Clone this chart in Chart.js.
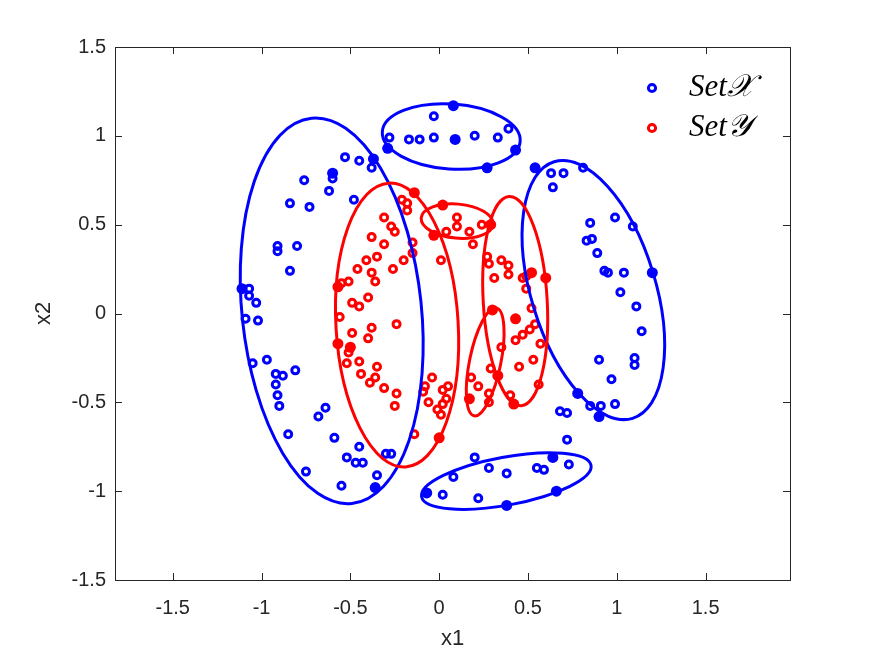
<!DOCTYPE html>
<html>
<head>
<meta charset="utf-8">
<script src="https://cdn.jsdelivr.net/npm/chart.js@4.4.1/dist/chart.umd.min.js"></script>
<style>
  html, body { margin: 0; padding: 0; background: #ffffff; }
  #wrap { width: 875px; height: 656px; }
</style>
</head>
<body>
<div id="wrap"><canvas id="scatterChart" width="875" height="656"></canvas></div>
<script>
// tick labels
const xTicks = [-1.5, -1, -0.5, 0, 0.5, 1, 1.5];
const yTicks = [-1.5, -1, -0.5, 0, 0.5, 1, 1.5];

// Set X: ring markers and the solid-looking (stacked) ones
const setXRing = [
  [-0.53, 0.88], [-0.45, 0.86], [-0.38, 0.82], [-0.76, 0.75], [-0.60, 0.76], [-0.62, 0.69], [-0.48, 0.64],
  [-0.84, 0.62], [-0.73, 0.60], [-0.91, 0.38], [-0.91, 0.35], [-0.80, 0.38], [-0.84, 0.24], [-1.07, 0.14],
  [-1.07, 0.10], [-1.03, 0.06], [-1.09, -0.03], [-1.02, -0.04], [-1.05, -0.28], [-0.97, -0.26], [-0.92, -0.34],
  [-0.88, -0.35], [-0.81, -0.32], [-0.92, -0.40], [-0.91, -0.46], [-0.90, -0.52], [-0.64, -0.53], [-0.68, -0.58],
  [-0.85, -0.68], [-0.59, -0.70], [-0.45, -0.75], [-0.52, -0.81], [-0.47, -0.84], [-0.43, -0.84], [-0.30, -0.79],
  [-0.27, -0.79], [-0.35, -0.91], [-0.55, -0.97], [-0.75, -0.89],
  [-0.03, 1.11], [-0.28, 0.99], [-0.17, 0.98], [-0.11, 0.98], [-0.03, 0.99], [0.20, 1.00], [0.33, 0.99], [0.39, 1.04],
  [0.63, 0.79], [0.70, 0.79], [0.64, 0.71], [0.81, 0.82], [0.99, 0.54], [0.85, 0.51], [1.09, 0.49], [0.83, 0.41],
  [0.86, 0.42], [0.89, 0.34], [0.93, 0.24], [0.95, 0.23], [1.04, 0.23], [1.02, 0.12], [1.11, 0.04], [1.14, -0.10],
  [0.90, -0.26], [1.10, -0.25], [1.10, -0.29], [0.97, -0.37], [0.68, -0.55], [0.72, -0.56], [0.85, -0.52],
  [0.91, -0.52], [0.99, -0.51],
  [0.02, -1.02], [0.08, -0.92], [0.20, -0.81], [0.28, -0.87], [0.22, -1.04], [0.38, -0.90], [0.55, -0.87],
  [0.59, -0.88], [0.73, -0.85], [0.72, -0.71]
];
const setXDots = [
  [-0.37, 0.87], [-0.60, 0.79], [-1.11, 0.14], [-0.36, -0.98], [-0.07, -1.01], [0.08, 1.17], [-0.29, 0.93],
  [0.09, 0.98], [0.43, 0.92], [0.27, 0.82], [0.54, 0.82], [1.20, 0.23], [0.78, -0.45], [0.90, -0.58],
  [0.38, -1.08], [0.64, -0.81], [0.66, -1.00]
];

// Set Y
const setYRing = [
  [-0.21, 0.64], [-0.18, 0.62], [-0.18, 0.58], [-0.31, 0.54], [-0.27, 0.49], [-0.25, 0.46], [-0.38, 0.43],
  [-0.31, 0.39], [-0.15, 0.40], [-0.15, 0.34], [-0.20, 0.30], [-0.35, 0.32], [-0.41, 0.30], [-0.46, 0.25],
  [-0.26, 0.25], [-0.38, 0.23], [-0.36, 0.18], [-0.51, 0.18], [-0.55, 0.17], [0.01, 0.30], [-0.49, 0.06],
  [-0.45, 0.04], [-0.40, 0.09], [-0.56, -0.02], [-0.24, -0.06], [-0.49, -0.11], [-0.38, -0.08], [-0.40, -0.14],
  [-0.51, -0.22], [-0.45, -0.27], [-0.52, -0.28], [-0.35, -0.30], [-0.44, -0.34], [-0.36, -0.36], [-0.39, -0.39],
  [-0.31, -0.42], [-0.24, -0.45], [-0.25, -0.52], [-0.14, -0.68],
  [-0.04, -0.36], [-0.08, -0.41], [-0.09, -0.44], [-0.06, -0.50], [0.02, -0.43], [0.05, -0.41], [0.04, -0.48],
  [0.02, -0.51], [-0.01, -0.54], [0.01, -0.57],
  [0.10, 0.54], [0.10, 0.49], [0.04, 0.46], [0.17, 0.46], [0.24, 0.50], [0.19, 0.39],
  [0.27, 0.32], [0.28, 0.28], [0.35, 0.30], [0.39, 0.27], [0.39, 0.22], [0.31, 0.20], [0.47, 0.20], [0.49, 0.21],
  [0.49, 0.14], [0.52, 0.03], [0.43, -0.15], [0.47, -0.12], [0.51, -0.09], [0.54, -0.06], [0.57, -0.17],
  [0.53, -0.26], [0.45, -0.30], [0.35, -0.19], [0.29, -0.31], [0.18, -0.36], [0.22, -0.41], [0.28, -0.45],
  [0.28, -0.50], [0.40, -0.46], [0.56, -0.40]
];
const setYDots = [
  [-0.14, 0.68], [-0.57, 0.15], [-0.57, -0.17], [-0.50, -0.19], [0.00, -0.70], [0.02, 0.61], [-0.03, 0.44],
  [0.29, 0.50], [0.60, 0.20], [0.43, -0.03], [0.30, 0.02], [0.33, -0.35], [0.17, -0.48], [0.42, -0.51], [0.52, 0.23]
];

// fitted ellipses: [centre x, centre y, semi axis a, semi axis b, angle of a in degrees]
const ellipsesX = [
  [-0.605, 0.015, 1.09, 0.505, 96],
  [0.068, 0.996, 0.389, 0.183, -4],
  [0.868, 0.132, 0.755, 0.35, 107],
  [0.378, -0.943, 0.485, 0.135, 10.5]
];
const ellipsesY = [
  [-0.237, -0.065, 0.80, 0.344, 93.4],
  [0.101, 0.52, 0.203, 0.096, -5],
  [0.428, 0.07, 0.59, 0.18, 93.3],
  [0.259, -0.272, 0.31, 0.088, 78.4]
];

const BLUE = '#0000ff';
const RED = '#ff0000';
const AXIS = '#262626';
const toPts = arr => arr.map(p => ({ x: p[0], y: p[1] }));

function ringSet(label, pts, color, order) {
  return {
    label: label, data: toPts(pts), order: order,
    pointStyle: 'circle', pointRadius: 3.5, pointBorderWidth: 3,
    pointBorderColor: color, pointBackgroundColor: 'rgba(0,0,0,0)', showLine: false
  };
}
function dotSet(label, pts, color, order) {
  return {
    label: label, data: toPts(pts), order: order,
    pointStyle: 'circle', pointRadius: 5.5, pointBorderWidth: 0,
    pointBorderColor: color, pointBackgroundColor: color, showLine: false
  };
}

// ellipses drawn through the scales
const ellipsePlugin = {
  id: 'ellipses',
  afterDatasetsDraw(chart) {
    const { ctx, chartArea, scales: { x, y } } = chart;
    const sx = x.getPixelForValue(1) - x.getPixelForValue(0);
    const sy = y.getPixelForValue(0) - y.getPixelForValue(1);
    ctx.save();
    ctx.beginPath();
    ctx.rect(chartArea.left, chartArea.top, chartArea.right - chartArea.left, chartArea.bottom - chartArea.top);
    ctx.clip();
    [[ellipsesX, BLUE], [ellipsesY, RED]].forEach(([list, color]) => {
      list.forEach(e => {
        ctx.save();
        ctx.beginPath();
        ctx.translate(x.getPixelForValue(e[0]), y.getPixelForValue(e[1]));
        ctx.scale(sx, -sy);
        ctx.rotate(e[4] * Math.PI / 180);
        ctx.ellipse(0, 0, e[2], e[3], 0, 0, 2 * Math.PI);
        ctx.restore();
        ctx.lineWidth = 3;
        ctx.strokeStyle = color;
        ctx.stroke();
      });
    });
    ctx.restore();
  }
};

// box with inward ticks, like the original figure
const boxPlugin = {
  id: 'box',
  afterDraw(chart) {
    const { ctx, chartArea: a, scales: { x, y } } = chart;
    const len = 7;
    ctx.save();
    ctx.strokeStyle = AXIS;
    ctx.lineWidth = 1;
    ctx.beginPath();
    xTicks.forEach(v => {
      const px = Math.round(x.getPixelForValue(v)) + 0.5;
      ctx.moveTo(px, a.bottom); ctx.lineTo(px, a.bottom - len);
      ctx.moveTo(px, a.top); ctx.lineTo(px, a.top + len);
    });
    yTicks.forEach(v => {
      const py = Math.round(y.getPixelForValue(v)) + 0.5;
      ctx.moveTo(a.left, py); ctx.lineTo(a.left + len, py);
      ctx.moveTo(a.right, py); ctx.lineTo(a.right - len, py);
    });
    ctx.stroke();
    ctx.strokeRect(a.left + 0.5, a.top + 0.5, a.right - a.left, a.bottom - a.top);
    ctx.restore();
  }
};

// legend in the upper right corner, no frame
const legendPlugin = {
  id: 'cornerLegend',
  afterDraw(chart) {
    const ctx = chart.ctx;
    const items = [['Set\u{1D4B3}', BLUE, 88], ['Set\u{1D4B4}', RED, 128]];
    ctx.save();
    items.forEach(([text, color, yy]) => {
      ctx.beginPath();
      ctx.arc(652, yy, 3.6, 0, 2 * Math.PI);
      ctx.lineWidth = 3;
      ctx.strokeStyle = color;
      ctx.stroke();
      ctx.fillStyle = '#000000';
      ctx.font = "italic 31px 'Liberation Serif', 'DejaVu Serif', serif";
      ctx.textBaseline = 'middle';
      ctx.textAlign = 'left';
      ctx.fillText(text, 689, yy);
    });
    ctx.restore();
  }
};

const tickFont = { family: "'Liberation Sans', Arial, sans-serif", size: 20 };
const titleFont = { family: "'Liberation Sans', Arial, sans-serif", size: 22 };

new Chart(document.getElementById('scatterChart').getContext('2d'), {
  type: 'scatter',
  data: {
    datasets: [
      ringSet('Set X', setXRing, BLUE, 4),
      dotSet('Set X', setXDots, BLUE, 3),
      ringSet('Set Y', setYRing, RED, 2),
      dotSet('Set Y', setYDots, RED, 1)
    ]
  },
  options: {
    responsive: false,
    animation: false,
    devicePixelRatio: 1,
    layout: { padding: { left: 0, right: 85, top: 47, bottom: 0 } },
    plugins: { legend: { display: false }, tooltip: { enabled: false } },
    scales: {
      x: {
        type: 'linear', min: -1.825, max: 1.975,
        afterBuildTicks: s => { s.ticks = xTicks.map(v => ({ value: v })); },
        afterFit: s => { s.height = 76; },
        grid: { display: false, drawTicks: false },
        border: { display: false },
        ticks: { font: tickFont, color: AXIS, padding: 16, maxRotation: 0, autoSkip: false, callback: v => String(v) },
        title: { display: true, text: 'x1', font: titleFont, color: AXIS, padding: { top: 0, bottom: 4 } }
      },
      y: {
        type: 'linear', min: -1.5, max: 1.5,
        afterBuildTicks: s => { s.ticks = yTicks.map(v => ({ value: v })); },
        afterFit: s => { s.width = 115; },
        grid: { display: false, drawTicks: false },
        border: { display: false },
        ticks: { font: tickFont, color: AXIS, padding: 9, autoSkip: false, callback: v => String(v) },
        title: { display: true, text: 'x2', font: titleFont, color: AXIS, padding: { top: 31, bottom: 0 } }
      }
    }
  },
  plugins: [ellipsePlugin, boxPlugin, legendPlugin]
});
</script>
</body>
</html>
